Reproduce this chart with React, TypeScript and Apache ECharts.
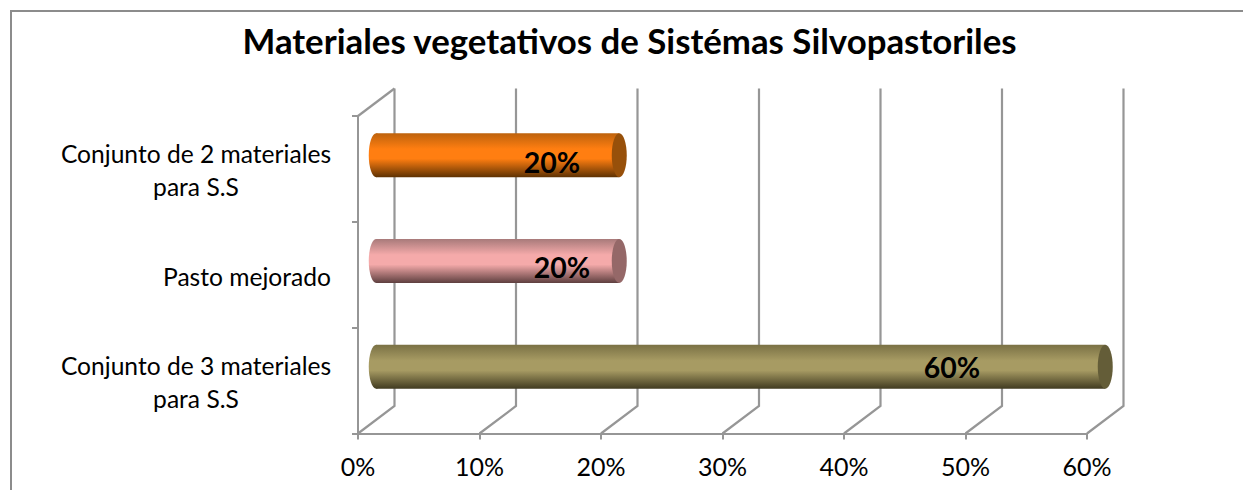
import React, { useEffect, useRef } from "react";
import * as echarts from "echarts";

const titleText = "Materiales vegetativos de Sistémas Silvopastoriles";
const categories = ["Conjunto de 3 materiales\npara S.S", "Pasto mejorado", "Conjunto de 2 materiales\npara S.S"];
const values = [0.6, 0.2, 0.2];
const valueTicks = [0, 0.1, 0.2, 0.3, 0.4, 0.5, 0.6];
const gradientTop = ["#7a7145", "#a87a7a", "#bd620c"];
const gradientMid = ["#a79b63", "#f5aaaa", "#ff7e11"];
const gradientBottom = ["#403a20", "#5e3f3f", "#5e3203"];
const capColors = ["#645d38", "#956868", "#97500a"];
const labelShiftX = [-135, -39, -49];
const labelShiftY = [0, 6, 7];

const FONT = "Lato";
const GRID_COLOR = "#969696";
const DEPTH_X = 36.5;
const DEPTH_Y = -27.5;

export default function App() {
  const ref = useRef<HTMLDivElement>(null);
  useEffect(() => {
    const chart = echarts.init(ref.current!, undefined, { renderer: "svg" });
    const grad = (i: number) =>
      new echarts.graphic.LinearGradient(0, 0, 0, 1, [
        { offset: 0, color: gradientTop[i] },
        { offset: 0.36, color: gradientMid[i] },
        { offset: 0.58, color: gradientMid[i] },
        { offset: 1, color: gradientBottom[i] },
      ]);
    chart.setOption({
      animation: false,
      backgroundColor: "#ffffff",
      title: {
        text: titleText,
        left: 624.5,
        top: 18,
        textAlign: "center",
        textStyle: { fontFamily: FONT, fontSize: 34.8, fontWeight: "bold", color: "#000" },
      },
      graphic: [
        {
          type: "polyline",
          shape: { points: [[11, 491], [11, 11], [1244, 11]] },
          style: { fill: "none", stroke: "#8c8c8c", lineWidth: 2 },
          silent: true,
        },
      ],
      grid: [{ left: 358, right: 156, top: 116, bottom: 56.5, containLabel: false }],
      xAxis: {
        type: "value",
        min: 0,
        max: 0.6,
        interval: 0.1,
        axisLine: { show: true, lineStyle: { color: GRID_COLOR, width: 2 } },
        axisTick: { show: true, length: 6, lineStyle: { color: GRID_COLOR, width: 2 } },
        splitLine: { show: false },
        axisLabel: {
          margin: 20,
          formatter: (v: number) => Math.round(v * 100) + "%",
          fontFamily: FONT,
          fontSize: 25,
          color: "#000",
        },
      },
      yAxis: {
        type: "category",
        data: categories,
        axisLine: { show: true, onZero: false, lineStyle: { color: GRID_COLOR, width: 2 } },
        axisTick: { show: true, length: 6, alignWithLabel: false, lineStyle: { color: GRID_COLOR, width: 2 } },
        axisLabel: {
          margin: 25,
          fontFamily: FONT,
          fontSize: 24.6,
          lineHeight: 33,
          color: "#000",
          align: "center",
          padding: [3, 0, 0, -274],
          formatter: (v: string) => (v.includes("\n") ? v : `{single|${v}}`),
          rich: {
            single: {
              fontFamily: FONT,
              fontSize: 24.6,
              lineHeight: 33,
              color: "#000",
              padding: [0, 0, 0, 102],
            },
          },
        },
      },
      series: [
        {
          type: "custom",
          name: "walls",
          silent: true,
          z: 1,
          data: valueTicks,
          encode: { x: 0 },
          renderItem: (params: any, api: any) => {
            const x = api.coord([api.value(0), 0])[0];
            const cs = params.coordSys;
            const bottom = cs.y + cs.height;
            const line = { stroke: GRID_COLOR, lineWidth: 2.2, fill: "none" };
            const points = [
              [x, bottom],
              [x + DEPTH_X, bottom + DEPTH_Y],
              [x + DEPTH_X, cs.y + DEPTH_Y],
            ];
            const children: any[] = [{ type: "polyline", shape: { points }, style: line }];
            if (params.dataIndex === 0) {
              children.push({
                type: "polyline",
                shape: { points: [[x, cs.y], [x + DEPTH_X, cs.y + DEPTH_Y]] },
                style: line,
              });
            }
            return { type: "group", children };
          },
        },
        {
          type: "custom",
          name: "bars",
          z: 3,
          data: values.map((v, i) => [v, i]),
          encode: { x: 0, y: 1 },
          renderItem: (params: any, api: any) => {
            const i = params.dataIndex;
            const start = api.coord([0, i]);
            const end = api.coord([api.value(0), i]);
            const cy = start[1] + DEPTH_Y / 2;
            const x0 = start[0] + DEPTH_X / 2;
            const x1 = end[0] + DEPTH_X / 2;
            const rx = 7.5;
            const ry = 22;
            const fill = grad(i);
            return {
              type: "group",
              children: [
                { type: "ellipse", shape: { cx: x0, cy, rx, ry }, style: { fill } },
                { type: "rect", shape: { x: x0, y: cy - ry, width: x1 - x0, height: ry * 2 }, style: { fill } },
                { type: "ellipse", shape: { cx: x1, cy, rx, ry }, style: { fill: capColors[i] } },
                {
                  type: "text",
                  x: end[0] + labelShiftX[i],
                  y: cy + labelShiftY[i],
                  style: {
                    text: Math.round(api.value(0) * 100) + "%",
                    fontFamily: FONT,
                    fontSize: 28.5,
                    fontWeight: "bold",
                    fill: "#000",
                    align: "center",
                    verticalAlign: "middle",
                  },
                },
              ],
            };
          },
        },
      ],
    });
    return () => chart.dispose();
  }, []);
  return <div ref={ref} style={{ position: "absolute", left: 0, top: 0, width: 1243, height: 490 }} />;
}
